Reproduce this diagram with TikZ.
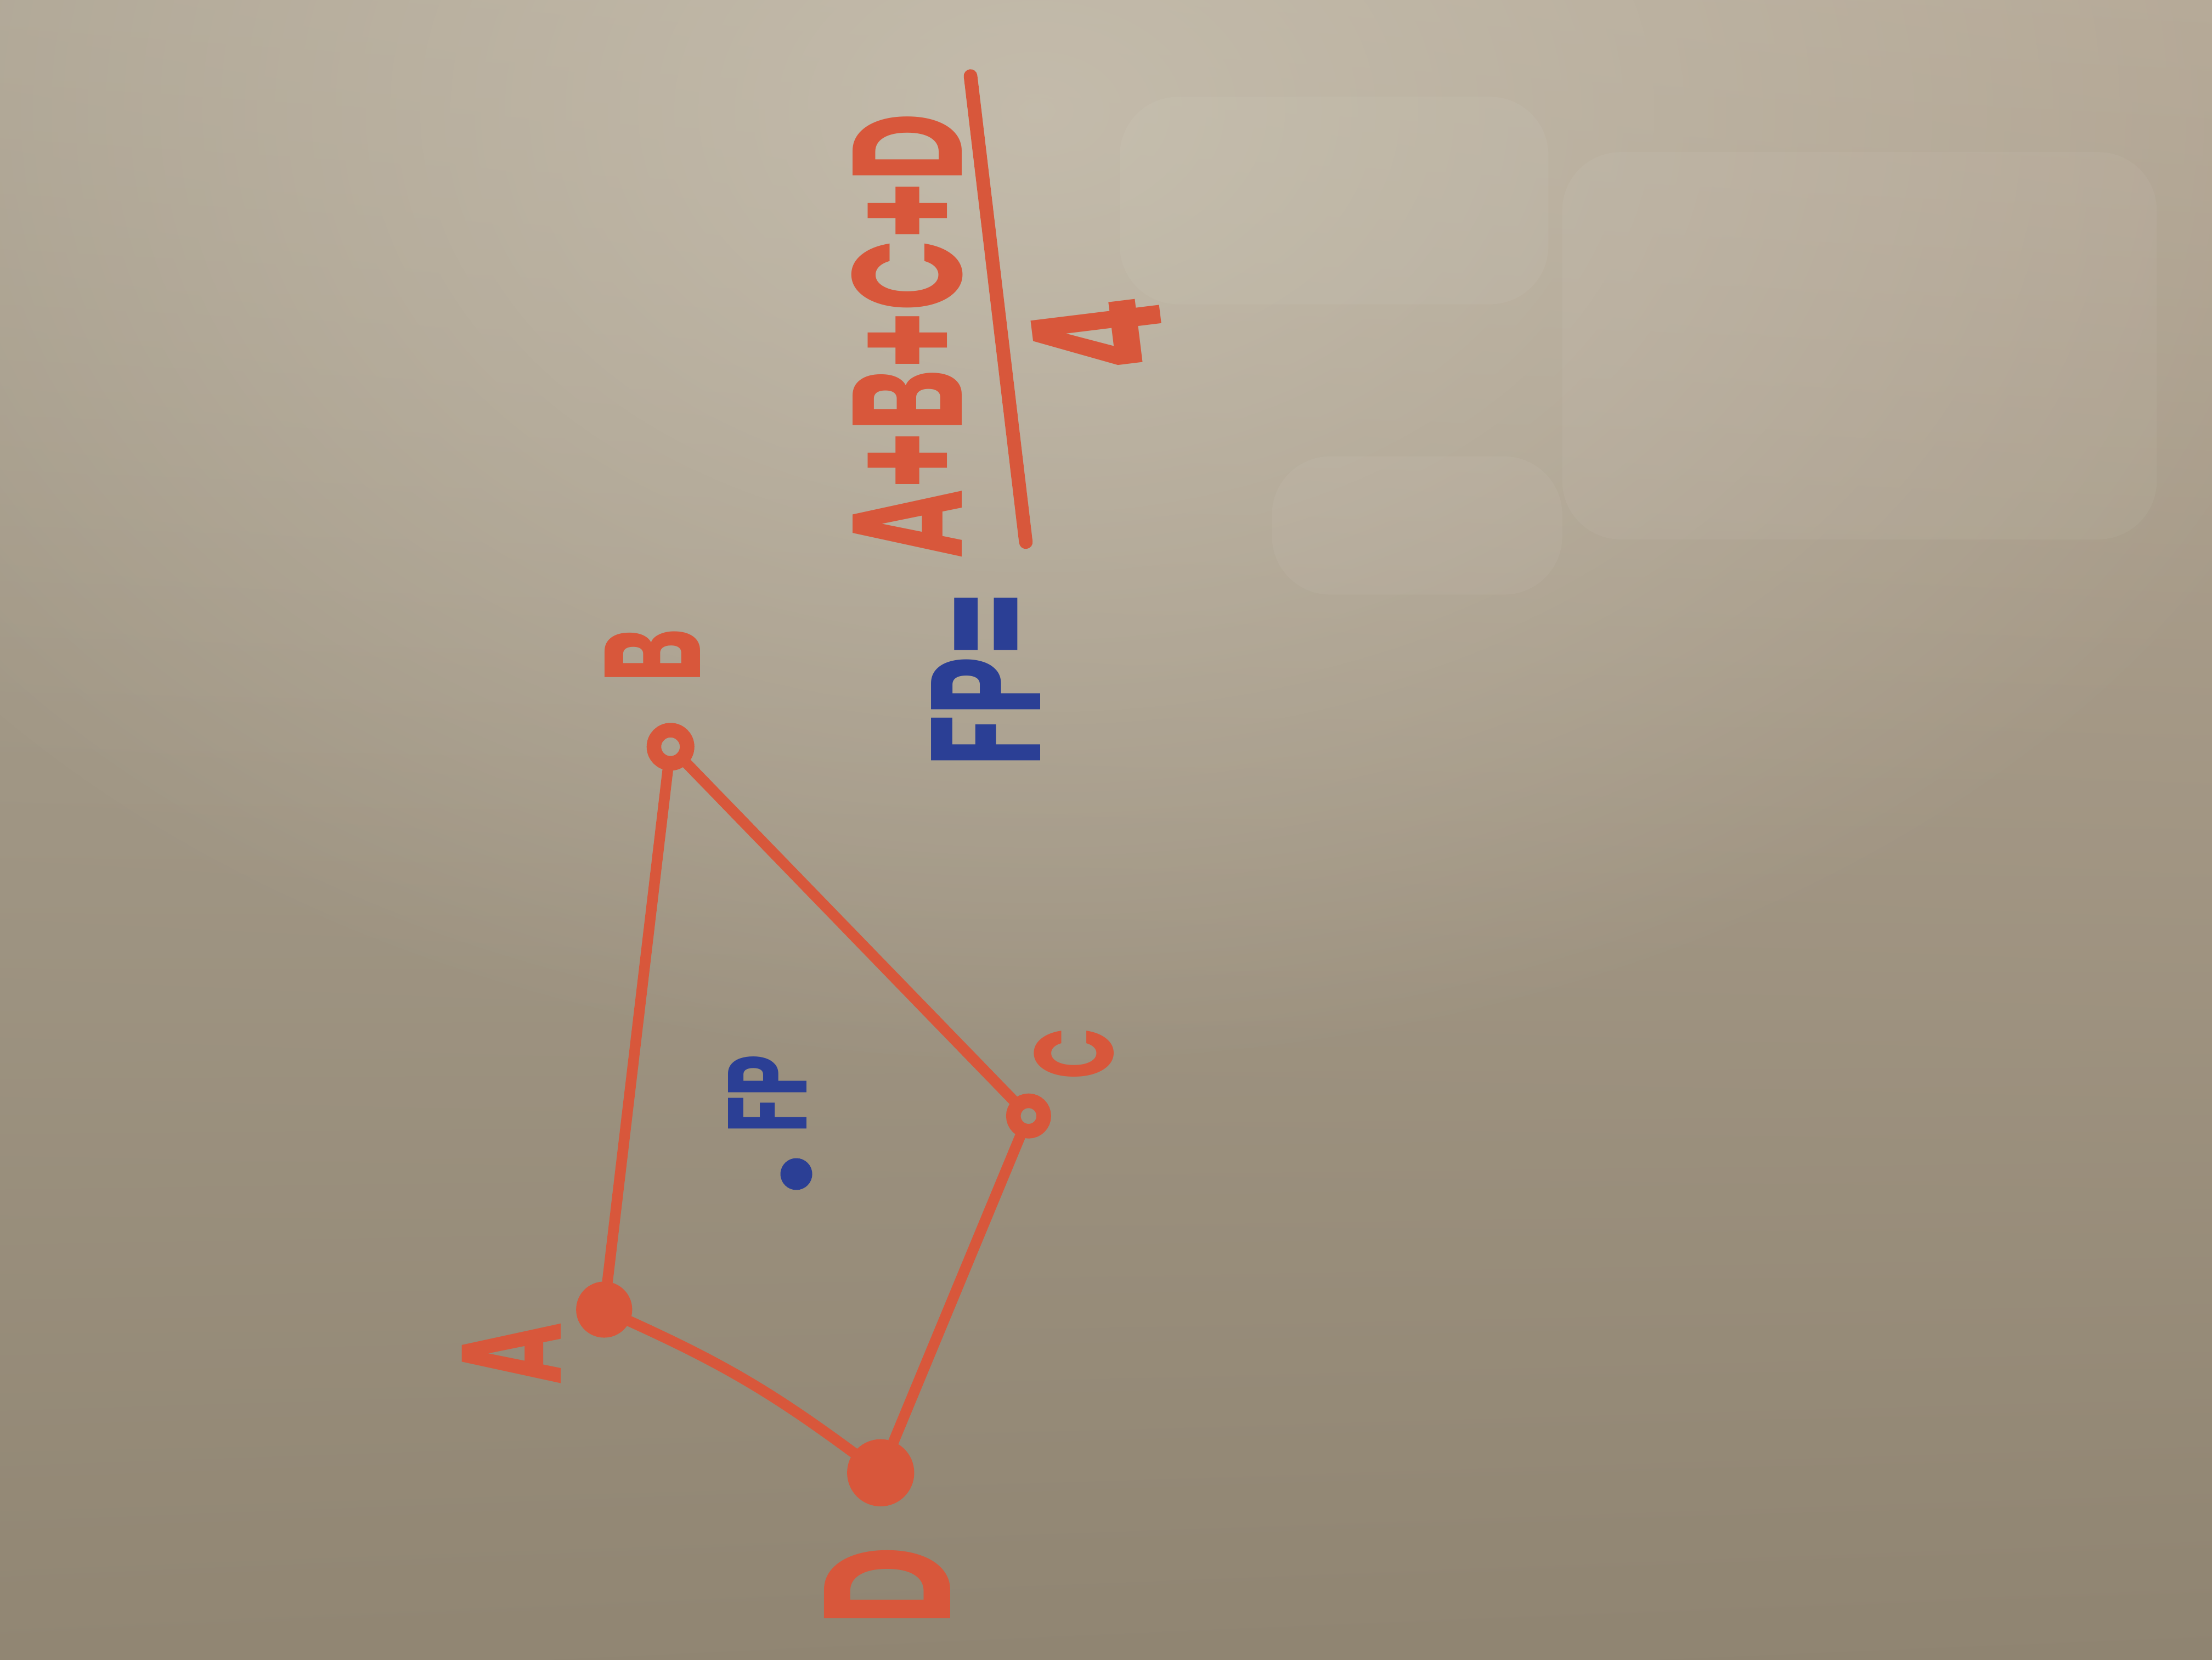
\documentclass[tikz,border=0pt]{standalone}
\usepackage{graphicx}
\usepackage{fontspec}
\setmainfont{Poppins}
\usetikzlibrary{fadings, shadings}

\definecolor{marker}{HTML}{D8573B}
\definecolor{ink}{HTML}{2B3F95}
\definecolor{bgul}{HTML}{ADA493}
\definecolor{bgur}{HTML}{B4A795}
\definecolor{bgll}{HTML}{918673}
\definecolor{bglr}{HTML}{8F8471}
\definecolor{bglight}{HTML}{C6BEAE}

\tikzfading[name=glow, inner color=transparent!10, outer color=transparent!100]

% squeeze handwriting along the line
\newcommand{\narrow}[1]{\scalebox{0.6}[1]{#1}}

\tikzset{
  ring/.style={circle, draw=marker, line width=3pt, inner sep=0pt, minimum size=2.4mm},
  blob/.style={ring, fill=marker, minimum size=#1},
  edge/.style={draw=marker, line width=2.2pt, line cap=round},
  hand/.style={text=marker, rotate=90, inner sep=0pt, font=\fontsize{#1}{#1}\selectfont\bfseries},
  bluehand/.style={hand=#1, text=ink},
  smudge/.style={white, opacity=0.045, rounded corners=12pt},
}

\begin{document}
\begin{tikzpicture}
  \useasboundingbox (0,0) rectangle (16,12);
  % --- Whiteboard ---
  \shade[upper left=bgul, upper right=bgur, lower left=bgll, lower right=bglr]
    (0,0) rectangle (16,12);
  \fill[bglight, path fading=glow] (7.5,11.2) ellipse (10 and 7);
  \fill[smudge] (8.1,9.8) rectangle (11.2,11.3);
  \fill[smudge] (11.3,8.1) rectangle (15.6,10.9);
  \fill[smudge] (9.2,7.7) rectangle (11.3,8.7);
  % --- Corners of the quadrilateral ---
  \node[ring] (b) at (4.85,6.60) {};
  \node[ring, minimum size=2.2mm] (c) at (7.44,3.93) {};
  \node[blob=3mm] (a) at (4.37,2.53) {};
  \node[blob=3.8mm] (d) at (6.37,1.35) {};
  % --- Sides ---
  \draw[edge] (a) -- (b);
  \draw[edge] (b) -- (c);
  \draw[edge] (c) -- (d);
  \draw[edge] (a) to[bend left=6] (d);
  % --- Corner labels ---
  \node[hand=28] (lb) at (4.72,7.26) {\narrow{B}};
  \node[hand=23] (lc) at (7.77,4.38) {\narrow{C}};
  \node[hand=29] (la) at (3.70,2.21) {\narrow{A}};
  \node[hand=37] (ld) at (6.42,0.53) {\narrow{D}};
  % --- Focal point ---
  \node[circle, fill=ink, inner sep=0pt, minimum size=2.3mm] (fp) at (5.76,3.51) {};
  \node[bluehand=23] (lfp) at (5.55,4.09) {\narrow{FP}};
  % --- Formula ---
  \node[bluehand=32] (lhs) at (7.13,7.09) {\narrow{FP=}};
  \node[hand=32] (num) at (6.56,9.57) {\narrow{A+B+C+D}};
  \coordinate (bartop) at (7.02,11.45);
  \coordinate (barbot) at (7.42,8.08);
  \draw[edge, line width=2.8pt] (barbot) -- (bartop);
  \node[hand=37, rotate=7] (den) at (7.94,9.57) {\narrow{4}};
\end{tikzpicture}
\end{document}
